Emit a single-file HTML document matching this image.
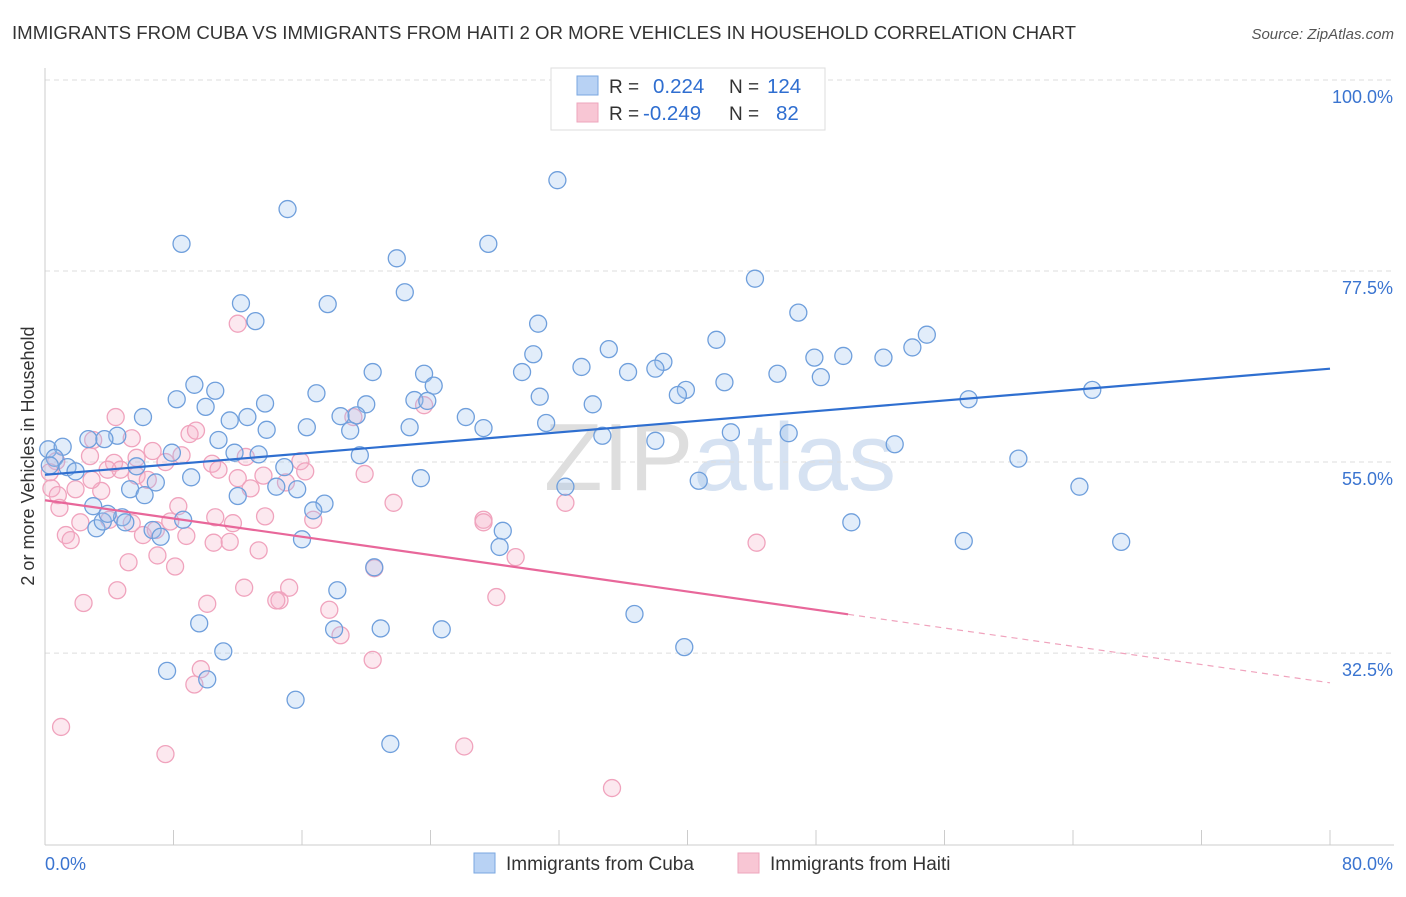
<!DOCTYPE html>
<html><head><meta charset="utf-8">
<style>
body{margin:0;background:#fff;font-family:"Liberation Sans",sans-serif;}
svg text{font-family:"Liberation Sans",sans-serif;}
</style></head>
<body>
<svg id="chart" width="1406" height="892">
<text x="12" y="39" font-size="18" fill="#333" textLength="1064" lengthAdjust="spacingAndGlyphs">IMMIGRANTS FROM CUBA VS IMMIGRANTS FROM HAITI 2 OR MORE VEHICLES IN HOUSEHOLD CORRELATION CHART</text>
<text x="1394" y="39" font-size="15" fill="#555" font-style="italic" text-anchor="end">Source: ZipAtlas.com</text>
<text x="720" y="490" font-size="96" fill="#e4e4ea" text-anchor="middle" font-family="Liberation Serif"><tspan fill="#dedede">ZIP</tspan><tspan fill="#d6e2f2" font-family="Liberation Sans">atlas</tspan></text>
<g id="grid"></g>
<g id="axes"></g>
<g id="pts"></g>
<g id="lines"></g>
<text transform="translate(34,456) rotate(-90)" font-size="18" fill="#333" text-anchor="middle">2 or more Vehicles in Household</text>
<g>
<rect x="551" y="68" width="274" height="62" fill="#fff" stroke="#ddd"/>
<rect x="577" y="76" width="21" height="19" fill="#b8d2f4" stroke="#7aa7e0"/>
<rect x="577" y="103" width="21" height="19" fill="#f8c6d4" stroke="#eea6bd"/>
<text x="609" y="93" font-size="19" fill="#333">R =</text>
<text x="653" y="93" font-size="20.5" fill="#2f6ed0">0.224</text>
<text x="729" y="93" font-size="19" fill="#333">N =</text>
<text x="767" y="93" font-size="20.5" fill="#2f6ed0">124</text>
<text x="609" y="120" font-size="19" fill="#333">R =</text>
<text x="643" y="120" font-size="20.5" fill="#2f6ed0">-0.249</text>
<text x="729" y="120" font-size="19" fill="#333">N =</text>
<text x="776" y="120" font-size="20.5" fill="#2f6ed0">82</text>
</g>
<g>
<rect x="474" y="853" width="21" height="20" fill="#b8d2f4" stroke="#7aa7e0"/>
<text x="506" y="870" font-size="19" fill="#333">Immigrants from Cuba</text>
<rect x="738" y="853" width="21" height="20" fill="#f8c6d4" stroke="#eea6bd"/>
<text x="770" y="870" font-size="19" fill="#333">Immigrants from Haiti</text>
</g>
</svg>
<script>
const yTicks=[100,77.5,55,32.5];
const yTickLabels=["100.0%","77.5%","55.0%","32.5%"];
const xEnds=["0.0%","80.0%"];
const cubaX=[31.9,15.1,8.5,27.6,21.9,22.4,44.2,12.2,17.6,13.1,30.7,46.9,54.9,54.0,41.8,35.1,30.4,47.9,49.7,52.2,38.5,33.4,36.3,38.0,29.7,20.4,23.6,45.6,48.3,42.3,9.3,24.2,39.9,39.4,10.6,8.2,16.9,10.0,20.0,30.8,65.2,57.5,13.7,23.0,34.1,6.1,11.5,12.6,18.4,19.4,26.2,23.8,13.8,16.3,19.0,22.7,27.3,31.2,4.5,2.7,3.7,10.8,34.7,38.0,42.7,46.3,52.9,0.2,1.1,0.6,0.3,1.4,1.9,5.7,7.9,11.8,13.3,19.6,14.9,9.1,23.4,40.7,60.6,32.4,5.3,6.9,6.2,12.0,14.4,15.7,3.0,4.8,3.2,5.0,6.7,7.2,8.6,17.4,16.7,28.5,28.3,16.0,50.2,57.2,64.4,67.0,20.5,18.2,36.7,9.6,18.0,20.9,24.7,11.1,39.8,7.6,10.1,15.6,21.5,3.6,3.9];
const cubaY=[88.2,84.8,80.7,80.7,79.0,75.0,76.6,73.7,73.6,71.6,71.3,72.6,70.0,68.5,69.4,68.3,67.7,67.3,67.5,67.3,66.8,66.2,65.6,66.0,65.6,65.6,65.4,65.4,65.0,64.4,64.1,64.0,63.5,62.9,63.4,62.4,63.1,61.5,61.8,62.7,63.5,62.4,61.9,62.3,61.8,60.3,59.9,60.3,60.4,60.5,60.3,62.2,58.8,59.1,58.7,59.1,59.0,59.6,58.1,57.7,57.7,57.6,58.1,57.5,58.5,58.4,57.1,56.5,56.8,55.5,54.6,54.4,53.9,54.5,56.1,56.1,55.9,55.8,54.4,53.2,53.1,52.8,55.4,52.1,51.8,52.6,51.1,51.0,52.1,51.8,49.8,48.5,47.2,47.9,47.0,46.2,48.2,50.1,49.3,46.9,45.0,45.9,47.9,45.7,52.1,45.6,42.6,39.9,37.1,36.0,35.3,35.4,35.3,32.7,33.2,30.4,29.4,27.0,21.8,48.0,48.9];
const haitiX=[12.0,4.4,19.2,23.6,9.0,9.4,5.4,3.0,6.7,8.5,5.7,7.5,10.4,12.5,15.9,16.2,4.3,2.8,0.7,0.3,0.4,0.8,1.9,3.5,4.7,5.7,6.4,8.3,10.8,12.0,13.6,12.8,15.0,19.9,0.9,2.2,1.3,1.6,5.4,4.0,6.1,6.9,7.8,8.8,10.6,11.7,13.7,10.5,11.5,13.3,16.7,21.7,27.3,27.3,32.4,5.2,7.0,8.1,20.5,29.3,44.3,2.4,4.5,10.1,12.4,14.6,14.4,15.2,17.7,18.4,20.4,28.1,9.7,9.3,1.0,7.5,26.1,35.3,3.9,2.9];
const haitiY=[71.3,60.3,60.3,61.7,58.3,58.7,57.8,57.6,56.3,55.8,55.5,55.0,54.8,55.6,55.1,53.9,54.9,55.7,55.1,53.8,51.9,51.1,51.8,51.6,54.1,53.4,52.9,49.8,54.1,53.1,53.4,51.9,52.6,53.6,49.6,47.9,46.4,45.8,47.8,48.2,46.4,47.0,48.0,46.3,48.5,47.8,48.6,45.5,45.6,44.6,48.2,50.2,48.2,47.9,50.2,43.2,44.0,42.7,42.5,43.8,45.5,38.4,39.9,38.3,40.2,38.7,38.7,40.2,37.6,34.6,31.7,39.1,30.6,28.8,23.8,20.6,21.5,16.6,54.1,52.9];
const cubaTrend=[53.5,66.0];
const haitiTrend=[50.5,29.0];
const haitiSolidEnd=50;

const NS="http://www.w3.org/2000/svg";
const X0=45,X1=1330,Y100=80,PPU=8.49;
const xs=v=>X0+v/80*(X1-X0);
const ys=v=>Y100+(100-v)*PPU;
function mk(tag,attrs,parent){const e=document.createElementNS(NS,tag);for(const k in attrs)e.setAttribute(k,attrs[k]);parent.appendChild(e);return e;}
const grid=document.getElementById('grid'),axes=document.getElementById('axes'),pts=document.getElementById('pts'),lines=document.getElementById('lines');
yTicks.forEach((t,i)=>{
  const l=mk('line',{x1:X0,x2:1394,y1:ys(t),y2:ys(t),stroke:'#ddd','stroke-dasharray':'5,4'},grid);
  
  
  const tx=mk('text',{x:1393,y:ys(t)+23,'font-size':18,fill:'#3a74d0','text-anchor':'end'},axes);
  tx.textContent=yTickLabels[i];
  
  
});
const ya=mk('line',{x1:X0,x2:X0,y1:68,y2:845,stroke:'#ccc'},axes);


const xa=mk('line',{x1:X0,x2:1394,y1:845,y2:845,stroke:'#ccc'},axes);


for(let i=0;i<=10;i++){
  const t=mk('line',{x1:xs(i*8),x2:xs(i*8),y1:830,y2:845,stroke:'#ccc'},axes);
  
  
}
[[0,'start',45],[80,'end',1393]].forEach((d,i)=>{
  const t=mk('text',{x:d[2],y:870,'font-size':18,fill:'#3a74d0','text-anchor':d[1]},axes);
  t.textContent=xEnds[i];
  
  
});
function dots(X,Y,fill,stroke,name){
  X.forEach((x,i)=>{
    const c=mk('circle',{cx:xs(x),cy:ys(Y[i]),r:8.5,fill:fill,stroke:stroke,'stroke-width':1.3},pts);
    
    
  });
}
dots(haitiX,haitiY,'rgba(246,180,202,0.3)','#f0a3bd','haiti-point');
dots(cubaX,cubaY,'rgba(160,195,240,0.3)','#6f9fdc','cuba-point');
const bl=mk('line',{x1:xs(0),y1:ys(cubaTrend[0]),x2:xs(80),y2:ys(cubaTrend[1]),stroke:'#2f6fd0','stroke-width':2.2},lines);


const hAt=v=>haitiTrend[0]+(haitiTrend[1]-haitiTrend[0])*v/80;
const pl=mk('line',{x1:xs(0),y1:ys(hAt(0)),x2:xs(haitiSolidEnd),y2:ys(hAt(haitiSolidEnd)),stroke:'#e8679a','stroke-width':2.2},lines);


const pd=mk('line',{x1:xs(haitiSolidEnd),y1:ys(hAt(haitiSolidEnd)),x2:xs(80),y2:ys(hAt(80)),stroke:'#f0a3bd','stroke-width':1.2,'stroke-dasharray':'6,5'},lines);


</script>
</body></html>
